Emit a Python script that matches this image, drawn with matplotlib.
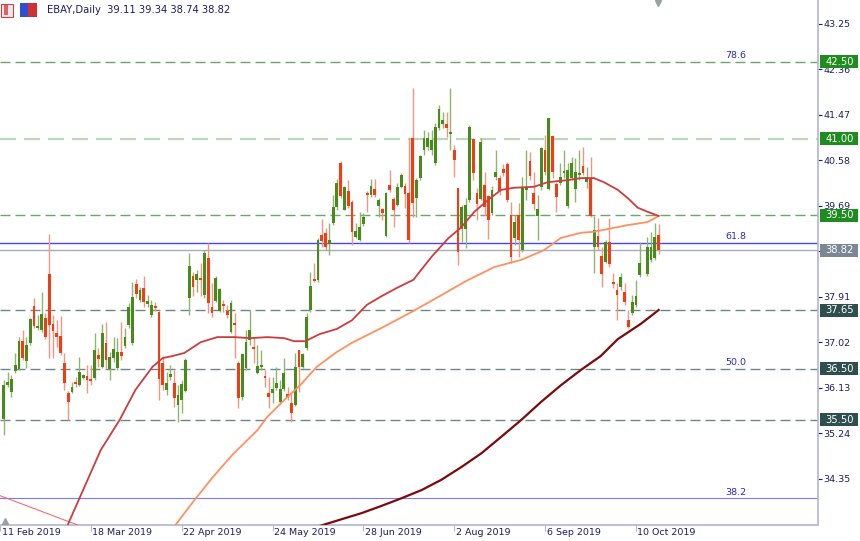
import numpy as np
import matplotlib
matplotlib.use("Agg")
import matplotlib.pyplot as plt
from matplotlib.patches import Rectangle

# daily candles, bar index 0 = 11 Feb 2019 (first drawn bar is index 1)
first_bar = 1
opens = [
    35.52, 36.18, 36.05, 36.46, 36.50, 37.04, 36.65, 37.01, 37.73, 37.30,
    37.26, 37.49, 38.35, 37.38, 37.20, 37.14, 36.61, 36.03, 36.05, 36.24,
    36.18, 36.33, 36.36, 36.30, 36.32, 36.77, 36.54, 37.01, 36.50, 36.71,
    36.52, 36.83, 36.95, 37.36, 37.01, 38.16, 37.85, 38.08, 37.77, 37.55,
    37.73, 37.61, 36.61, 36.09, 36.34, 36.22, 35.79, 35.89, 36.07, 37.89,
    38.32, 38.24, 38.26, 37.94, 38.67, 37.71, 37.83, 37.63, 37.75, 37.63,
    37.22, 37.40, 36.61, 35.95, 36.52, 37.06, 36.93, 36.42, 36.54, 36.36,
    36.03, 36.03, 36.13, 35.85, 36.11, 36.01, 35.83, 35.79, 36.87, 36.54,
    36.91, 37.65, 38.26, 38.24, 39.12, 39.16, 38.94, 39.35, 39.66, 40.52,
    39.61, 39.98, 39.76, 39.08, 39.02, 39.33, 39.94, 39.90, 40.02, 39.68,
    39.63, 39.10, 40.10, 39.82, 39.70, 40.06, 40.08, 39.94, 41.01, 39.84,
    40.23, 40.78, 40.84, 40.78, 40.52, 41.21, 41.29, 41.29, 41.09, 40.78,
    40.04, 39.23, 39.23, 39.80, 40.99, 39.94, 39.82, 40.10, 39.88, 39.55,
    40.25, 40.23, 40.41, 40.51, 39.51, 39.06, 39.51, 38.82, 40.00, 40.56,
    39.94, 39.49, 40.06, 40.78, 40.02, 41.05, 40.11, 40.13, 40.33, 39.69,
    40.23, 40.02, 40.29, 40.47, 40.15, 40.23, 38.88, 39.10, 38.71, 38.59,
    38.98, 38.20, 38.04, 38.10, 38.00, 37.45, 37.59, 37.75, 38.34, np.nan,
    38.35, 38.63, 38.67, 39.11,
]
highs = [
    36.28, 36.44, 36.38, 36.81, 37.12, 37.26, 37.12, 37.49, 37.89, 37.55,
    38.00, 37.59, 39.14, 37.55, 37.46, 37.53, 36.81, 36.07, 36.24, 36.34,
    36.73, 36.40, 36.57, 36.57, 37.20, 36.91, 37.38, 37.42, 36.83, 37.12,
    37.10, 37.42, 37.30, 37.79, 38.20, 38.26, 38.10, 38.32, 37.94, 37.85,
    37.81, 37.63, 36.75, 36.44, 36.57, 36.48, 36.18, 36.28, 36.71, 38.76,
    38.39, 38.43, 38.57, 38.82, 38.96, 38.18, 38.32, 38.08, 37.85, 37.75,
    37.85, 37.59, 36.65, 36.79, 37.26, 37.65, 37.12, 36.97, 36.87, 36.48,
    36.34, 36.34, 36.54, 36.28, 36.71, 36.14, 36.03, 36.81, 36.87, 36.81,
    37.59, 38.39, 38.57, 39.06, 39.43, 39.25, 39.35, 39.90, 40.21, 40.56,
    40.08, 40.19, 39.80, 39.35, 39.57, 39.55, 39.98, 40.21, 40.21, 39.84,
    39.65, 39.96, 40.39, 39.86, 40.13, 40.33, 40.13, 41.01, 41.99, 40.23,
    40.68, 41.17, 41.13, 41.17, 41.31, 41.66, 41.52, 41.52, 41.99, 40.88,
    40.04, 39.70, 39.84, 41.27, 41.01, 40.04, 41.01, 40.35, 39.90, 40.08,
    40.78, 40.29, 40.51, 40.54, 39.76, 39.51, 39.74, 40.25, 40.78, 40.74,
    40.35, 39.90, 40.84, 41.07, 41.40, 41.07, 40.15, 40.53, 40.78, 40.53,
    40.64, 40.62, 40.78, 40.84, 40.45, 40.64, 39.49, 39.45, 38.88, 39.02,
    39.45, 38.37, 38.18, 38.37, 38.18, 37.65, 37.94, 38.24, 38.98, np.nan,
    39.08, 39.18, 39.35, 39.34,
]
lows = [
    35.21, 36.14, 35.95, 36.42, 36.48, 36.67, 36.52, 36.97, 37.30, 37.26,
    37.22, 37.08, 36.71, 36.71, 36.93, 36.77, 36.09, 35.50, 36.03, 36.14,
    36.16, 36.30, 36.03, 36.18, 36.28, 36.54, 36.52, 36.52, 36.28, 36.63,
    36.48, 36.67, 36.91, 37.30, 36.97, 37.89, 37.81, 37.71, 37.71, 37.51,
    37.63, 35.89, 36.09, 35.99, 36.28, 35.75, 35.46, 35.64, 36.05, 37.55,
    37.92, 38.00, 37.92, 37.89, 37.59, 37.51, 37.81, 37.61, 37.61, 37.49,
    37.20, 36.71, 35.73, 35.89, 36.48, 36.97, 36.61, 36.40, 36.48, 36.14,
    35.73, 35.83, 36.09, 35.81, 36.07, 35.89, 35.46, 35.77, 36.05, 36.52,
    36.87, 37.61, 38.20, 38.20, 38.88, 38.82, 38.73, 39.31, 39.61, 39.84,
    39.61, 39.65, 38.92, 39.06, 39.00, 39.29, 39.57, 39.86, 39.86, 39.47,
    39.41, 39.08, 39.96, 39.27, 39.68, 40.04, 39.65, 38.96, 39.47, 39.47,
    40.19, 40.68, 40.78, 40.68, 40.49, 41.17, 41.21, 41.03, 40.78, 40.25,
    38.53, 38.98, 38.86, 39.76, 40.19, 39.41, 39.80, 39.51, 39.04, 39.51,
    40.19, 39.90, 40.27, 39.76, 38.57, 38.92, 38.69, 38.79, 39.80, 40.19,
    39.61, 39.02, 40.00, 40.29, 40.00, 40.23, 39.57, 40.09, 40.23, 39.65,
    40.19, 39.76, 40.19, 40.29, 40.04, 39.47, 38.37, 38.82, 38.10, 38.57,
    38.49, 38.08, 37.45, 38.04, 37.75, 37.30, 37.55, 37.71, 38.30, np.nan,
    38.32, 38.59, 38.63, 38.74,
]
closes = [
    36.18, 36.24, 36.30, 36.57, 37.04, 36.71, 36.97, 37.47, 37.34, 37.34,
    37.57, 37.12, 37.36, 37.24, 37.12, 36.81, 36.22, 35.85, 36.14, 36.20,
    36.44, 36.36, 36.28, 36.26, 36.87, 36.69, 37.20, 36.67, 36.73, 36.89,
    36.83, 36.75, 37.12, 37.71, 37.90, 37.96, 38.04, 37.81, 37.83, 37.75,
    37.69, 36.30, 36.18, 36.22, 36.40, 35.93, 35.99, 36.20, 36.67, 38.51,
    38.10, 38.35, 38.24, 38.76, 37.79, 37.59, 38.28, 38.06, 37.73, 37.55,
    37.79, 37.36, 35.93, 36.79, 37.03, 37.26, 36.89, 36.56, 36.57, 36.32,
    35.95, 36.11, 36.22, 36.11, 36.42, 35.95, 35.64, 36.54, 36.54, 36.79,
    37.51, 38.12, 38.22, 39.02, 39.00, 38.88, 39.02, 39.66, 40.13, 39.88,
    40.06, 39.68, 39.18, 39.20, 39.27, 39.47, 39.90, 40.08, 39.90, 39.80,
    39.55, 39.94, 40.00, 39.61, 40.06, 40.29, 39.92, 39.02, 39.74, 40.19,
    40.66, 41.01, 41.01, 40.97, 41.23, 41.58, 41.37, 41.21, 41.11, 40.58,
    38.79, 39.66, 39.70, 41.23, 40.33, 39.72, 40.94, 39.66, 39.41, 40.00,
    40.35, 39.98, 40.33, 39.80, 38.69, 39.37, 39.02, 40.06, 40.04, 40.27,
    39.72, 39.63, 40.82, 40.35, 41.40, 40.35, 39.86, 40.25, 40.35, 40.39,
    40.52, 40.35, 40.33, 40.33, 40.25, 39.49, 39.22, 38.88, 38.36, 38.98,
    38.55, 38.16, 37.94, 38.30, 37.81, 37.32, 37.81, 37.92, 38.57, np.nan,
    38.88, 38.88, 39.08, 38.82,
]

# moving averages (bar index, price)
ma_fast_x = [15.3, 17.9, 26.6, 31.6, 35.8, 40.3, 43.0, 45.6, 48.7, 53.0, 57.4, 61.9,
             66.1, 70.6, 75.1, 77.7, 80.6, 84.5, 89.0, 93.0, 96.9, 100.8, 104.8,
             109.2, 114.0, 118.4, 121.9, 125.3, 128.9, 132.4, 135.8, 141.1, 144.7,
             150.0, 153.5, 156.9, 159.5, 163.2, 165.8, 168.5, 171.1, 174.0]
ma_fast_y = [33.00, 33.45, 34.91, 35.50, 36.09, 36.54, 36.71, 36.75, 36.81, 37.02,
             37.12, 37.12, 37.10, 37.12, 37.10, 37.04, 37.04, 37.18, 37.28, 37.45,
             37.75, 37.92, 38.08, 38.24, 38.69, 39.05, 39.27, 39.57, 39.80, 40.00,
             40.04, 40.06, 40.15, 40.19, 40.23, 40.23, 40.15, 40.00, 39.84, 39.65,
             39.57, 39.49]
ma_mid_x = [45.0, 46.4, 50.8, 56.1, 61.4, 68.0, 70.6, 75.1, 79.3, 83.7, 89.0, 93.0,
            100.8, 108.7, 116.6, 123.2, 130.6, 137.7, 143.7, 148.2, 153.5, 156.9,
            165.8, 171.1, 174.0]
ma_mid_y = [33.25, 33.45, 33.88, 34.37, 34.82, 35.30, 35.56, 35.89, 36.18, 36.54,
            36.83, 37.01, 37.30, 37.61, 37.94, 38.22, 38.49, 38.63, 38.82, 39.06,
            39.16, 39.18, 39.31, 39.37, 39.49]
ma_slow_x = [83.7, 90.3, 95.6, 100.8, 106.1, 111.4, 116.6, 121.9, 127.2, 132.4,
             137.7, 142.9, 148.2, 153.5, 158.7, 163.2, 169.3, 174.0]
ma_slow_y = [33.41, 33.56, 33.68, 33.82, 33.97, 34.13, 34.33, 34.58, 34.85, 35.17,
             35.50, 35.85, 36.18, 36.48, 36.75, 37.08, 37.38, 37.65]

trend_x = [0.0, 25.0]
trend_y = [34.02, 33.32]

levels_green = [42.50, 41.00, 39.50]
levels_gray = [37.65, 36.50, 35.50]
last_price = 38.82

fib_names = ["78.6", "61.8", "50.0", "38.2"]
fib_prices = [42.50, 38.96, 36.50, 33.97]

price_ticks = [43.25, 42.36, 41.47, 40.58, 39.69, 38.80, 37.91, 37.02, 36.13, 35.24, 34.35]
date_ticks = [0, 24, 48, 72, 96, 120, 144, 168]
date_labels = ["11 Feb 2019", "18 Mar 2019", "22 Apr 2019", "24 May 2019",
               "28 Jun 2019", "2 Aug 2019", "6 Sep 2019", "10 Oct 2019"]

title = "EBAY,Daily  39.11 39.34 38.74 38.82"

UP = "#4a8a1c"
DOWN = "#f23c14"
UP_WICK = "#8fb573"
DOWN_WICK = "#f39580"
TXT = "#1c1c64"
AXC = "#b4b4d4"

plt.rcParams['font.family'] = ['DejaVu Sans']

fig = plt.figure(figsize=(8.6, 5.41), dpi=100)
ax = fig.add_axes([0, 16 / 541, 818 / 860, 525 / 541])
ax.set_xlim(0.84, 216.1)
ax.set_ylim(33.446, 43.712)

# horizontal levels
for p in levels_green:
    col = "#b8d8b8" if p == 41.00 else "#6aa86a"
    lw = 1.6 if p == 41.00 else 1.0
    ax.axhline(p, color=col, lw=lw, ls=(0, (7.2, 3.6)), zorder=1)
for p in levels_gray:
    ax.axhline(p, color="#708585", lw=1.0, ls=(0, (7.2, 3.6)), zorder=1)
ax.axhline(fib_prices[1], color="#4646ff", lw=1.0, zorder=1)
ax.axhline(fib_prices[3], color="#7a7aff", lw=0.8, zorder=1)
ax.axhline(last_price, color="#a3adbd", lw=1.0, zorder=1)

for name, p in zip(fib_names, fib_prices):
    ax.text(194.3, p + 0.03, name, color="#2828c8", fontsize=6.8,
            ha="center", va="bottom", zorder=2)

# candles
o = np.array(opens)
h = np.array(highs)
l = np.array(lows)
c = np.array(closes)
idx = np.arange(first_bar, first_bar + len(o))
ok = ~np.isnan(o)
up = (c >= o) & ok
dn = (c < o) & ok
ax.vlines(idx[up], l[up], h[up], colors=UP_WICK, lw=1.0, zorder=2)
ax.vlines(idx[dn], l[dn], h[dn], colors=DOWN_WICK, lw=1.0, zorder=2)
body_lo = np.minimum(o, c)
body_h = np.maximum(np.abs(c - o), 0.04)
ax.bar(idx[up], body_h[up], bottom=body_lo[up], width=0.74, color=UP, lw=0, zorder=3)
ax.bar(idx[dn], body_h[dn], bottom=body_lo[dn], width=0.74, color=DOWN, lw=0, zorder=3)

# moving averages and trend line
ax.plot(trend_x, trend_y, color="#ff5a5a", lw=0.7, zorder=4)
ax.plot(ma_slow_x, ma_slow_y, color="#7c0a0a", lw=1.6, zorder=4)
ax.plot(ma_mid_x, ma_mid_y, color="#ff9060", lw=1.3, zorder=4)
ax.plot(ma_fast_x, ma_fast_y, color="#cc3c3c", lw=1.3, zorder=4)

# axes look
for s in ["top", "left"]:
    ax.spines[s].set_visible(False)
for s in ["right", "bottom"]:
    ax.spines[s].set_color(AXC)
    ax.spines[s].set_linewidth(1.2)

ax.yaxis.tick_right()
ax.set_yticks(price_ticks)
# 38.80 sits under the last-price box, so its label is not shown
ax.set_yticklabels(["" if t == 38.80 else f"{t:.2f}" for t in price_ticks])
ax.tick_params(axis="y", length=3, width=0.8, color=TXT, labelcolor=TXT,
               labelsize=6.8, pad=1)
ax.set_xticks(date_ticks)
ax.set_xticklabels([])
ax.tick_params(axis="x", length=4, width=0.8, color=AXC)
for t, lab in zip(date_ticks, date_labels):
    ax.text(t + 0.4, -0.006, lab, transform=ax.get_xaxis_transform(),
            ha="left", va="top", fontsize=6.8, color=TXT, clip_on=False)

# price boxes on the right
box_w = 38 / 818
box_h = 13 / 51.14
boxes = [(p, "#1f8c1f") for p in levels_green] + [(last_price, "#7b8794")] + \
        [(p, "#2f4f4f") for p in levels_gray]
for p, col in boxes:
    ax.add_patch(Rectangle((1.003, p - box_h / 2), box_w, box_h, facecolor=col,
                           edgecolor="none", transform=ax.get_yaxis_transform(),
                           clip_on=False, zorder=6))
    ax.text(1.003 + box_w / 2, p, f"{p:.2f}", transform=ax.get_yaxis_transform(),
            ha="center", va="center", fontsize=7.2, color="white", clip_on=False, zorder=7)

# markers MT4 draws at the shift point and bottom-left
ax.plot([173.7], [43.66], marker="v", color="#9aa0aa", ms=5, clip_on=False, zorder=5)
ax.plot([1.3], [33.52], marker="^", color="#9aa0aa", ms=4, clip_on=False, zorder=5)

# title + little icons
fig.add_artist(Rectangle((1 / 860, 1 - 17 / 541), 12 / 860, 13 / 541, transform=fig.transFigure,
                         facecolor="#e8e8f0", edgecolor="#cc4040", lw=0.8))
fig.add_artist(Rectangle((4 / 860, 1 - 15 / 541), 4 / 860, 10 / 541, transform=fig.transFigure,
                         facecolor="#e06060", edgecolor="none"))
fig.add_artist(Rectangle((20 / 860, 1 - 17 / 541), 8 / 860, 14 / 541, transform=fig.transFigure,
                         facecolor="#2f4fd0", edgecolor="none"))
fig.add_artist(Rectangle((28 / 860, 1 - 17 / 541), 9 / 860, 14 / 541, transform=fig.transFigure,
                         facecolor="#d03030", edgecolor="none"))
fig.text(47 / 860, 1 - 10 / 541, title, fontsize=7.2, color=TXT, va="center", ha="left")

fig.savefig("out.png", dpi=100, facecolor="white")
